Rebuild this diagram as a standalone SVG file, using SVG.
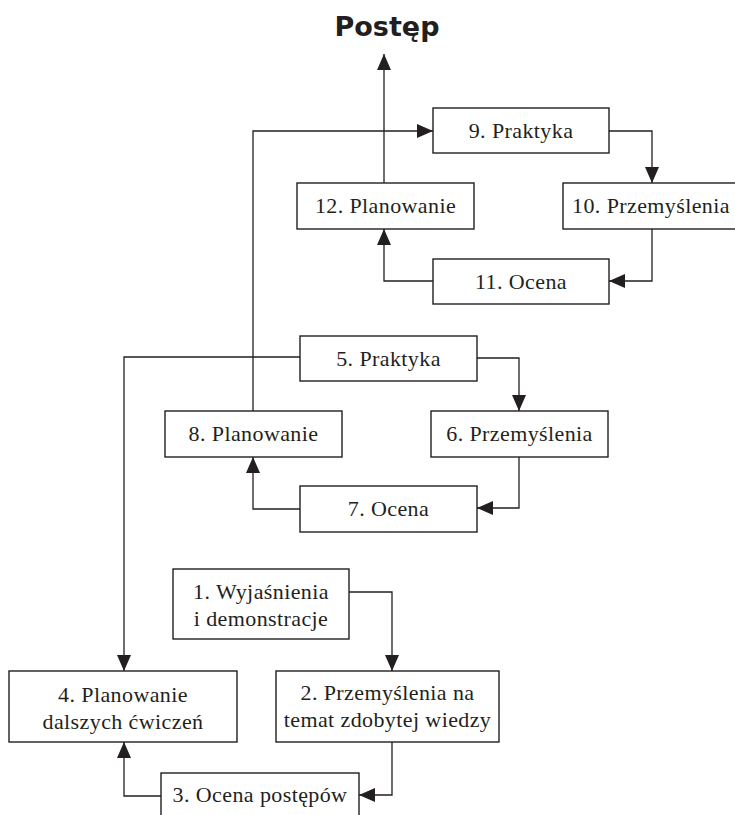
<svg xmlns="http://www.w3.org/2000/svg" width="735" height="815" viewBox="0 0 735 815">
  <style>
    .box { fill: #ffffff; stroke: #231f20; stroke-width: 1.4; }
    .lbl { font-family: "Liberation Serif", "DejaVu Serif", serif; font-size: 22px; fill: #231f20; text-anchor: middle; letter-spacing: 0.4px; }
    .title { font-family: "DejaVu Sans", "Liberation Sans", sans-serif; font-weight: bold; font-size: 27px; fill: #231f20; text-anchor: middle; }
    .conn { fill: none; stroke: #231f20; stroke-width: 1.3; marker-end: url(#arr); }
  </style>
  <defs>
    <marker id="arr" viewBox="0 0 16 14" refX="16" refY="7" markerWidth="16" markerHeight="14" markerUnits="userSpaceOnUse" orient="auto">
      <path d="M0,0 L16,7 L0,14 Z" fill="#231f20"/>
    </marker>
  </defs>
  <rect width="735" height="815" fill="#ffffff"/>

  <text class="title" x="387" y="36">Postęp</text>

  <g id="connectors">
    <path class="conn" d="M609,131 H652 V183"/>
    <path class="conn" d="M652,229 V281 H609"/>
    <path class="conn" d="M433,281 H384 V229"/>
    <path class="conn" d="M384,183 V54"/>
    <path class="conn" d="M253,411 V131 H433"/>
    <path class="conn" d="M477,358 H519 V411"/>
    <path class="conn" d="M519,457 V508 H477"/>
    <path class="conn" d="M300,509 H253 V457"/>
    <path class="conn" d="M300,357 H124 V671"/>
    <path class="conn" d="M349,592 H392 V671"/>
    <path class="conn" d="M392,742 V795 H359"/>
    <path class="conn" d="M161,796 H124 V742"/>
  </g>

  <g id="n1">
    <rect class="box" x="173" y="569" width="176" height="70"/>
    <text class="lbl" x="261" y="599">1. Wyjaśnienia</text>
    <text class="lbl" x="261" y="626">i demonstracje</text>
  </g>
  <g id="n2">
    <rect class="box" x="276" y="671" width="223" height="71"/>
    <text class="lbl" x="387.5" y="700">2. Przemyślenia na</text>
    <text class="lbl" x="387.5" y="727">temat zdobytej wiedzy</text>
  </g>
  <g id="n3">
    <rect class="box" x="161" y="773" width="198" height="50"/>
    <text class="lbl" x="260" y="802">3. Ocena postępów</text>
  </g>
  <g id="n4">
    <rect class="box" x="9" y="671" width="228" height="71"/>
    <text class="lbl" x="123" y="702">4. Planowanie</text>
    <text class="lbl" x="123" y="729">dalszych ćwiczeń</text>
  </g>
  <g id="n5">
    <rect class="box" x="300" y="336" width="177" height="45"/>
    <text class="lbl" x="388.5" y="366">5. Praktyka</text>
  </g>
  <g id="n6">
    <rect class="box" x="431" y="411" width="177" height="46"/>
    <text class="lbl" x="519.5" y="441">6. Przemyślenia</text>
  </g>
  <g id="n7">
    <rect class="box" x="300" y="486" width="177" height="46"/>
    <text class="lbl" x="388.5" y="516">7. Ocena</text>
  </g>
  <g id="n8">
    <rect class="box" x="165" y="411" width="177" height="46"/>
    <text class="lbl" x="253.5" y="441">8. Planowanie</text>
  </g>
  <g id="n9">
    <rect class="box" x="433" y="108" width="176" height="45"/>
    <text class="lbl" x="521" y="138">9. Praktyka</text>
  </g>
  <g id="n10">
    <rect class="box" x="563" y="183" width="177" height="46"/>
    <text class="lbl" x="651" y="213">10. Przemyślenia</text>
  </g>
  <g id="n11">
    <rect class="box" x="433" y="259" width="176" height="45"/>
    <text class="lbl" x="521" y="289">11. Ocena</text>
  </g>
  <g id="n12">
    <rect class="box" x="297" y="183" width="177" height="46"/>
    <text class="lbl" x="385.5" y="213">12. Planowanie</text>
  </g>
</svg>
